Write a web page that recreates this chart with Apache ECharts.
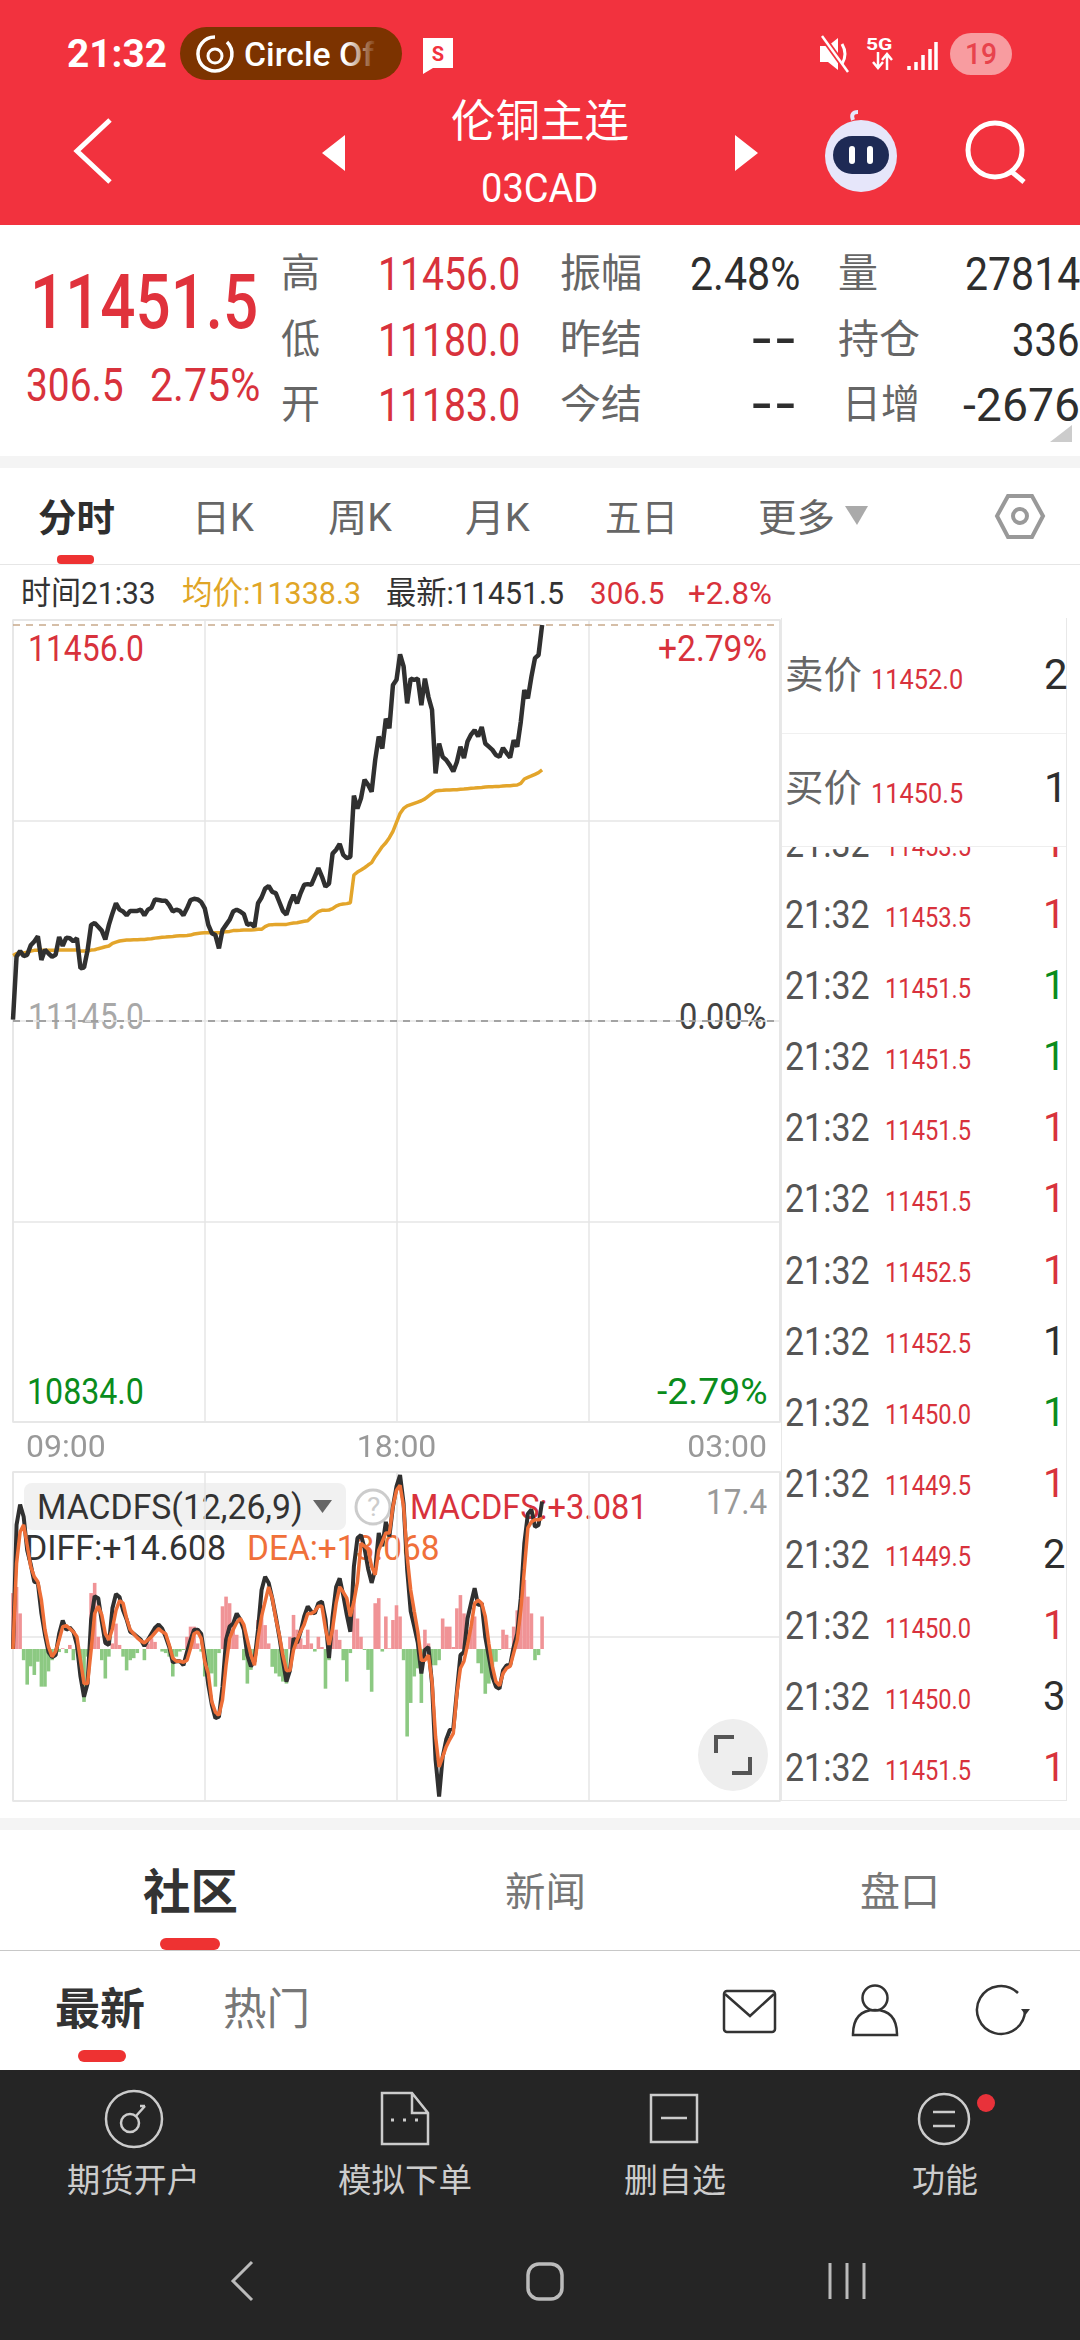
<!DOCTYPE html>
<html>
<head>
<meta charset="utf-8">
<script src="https://cdn.jsdelivr.net/npm/echarts@6/dist/echarts.min.js"></script>
<style>
html,body{margin:0;padding:0;background:#fff;}
#page{position:relative;width:1080px;height:2340px;overflow:hidden;font-family:Roboto,"Noto Sans CJK SC",sans-serif;}
#page span{position:absolute;white-space:nowrap;line-height:1;transform-origin:left center;}
.box{position:absolute;}
#main{position:absolute;left:0;top:600px;width:790px;height:1220px;z-index:5;}
svg{position:absolute;left:0;top:0;}
</style>
</head>
<body>
<div id="page">
<div class="box" style="left:0;top:0;width:1080px;height:225px;background:#f2323e"></div>
<div class="box" style="left:0;top:456px;width:1080px;height:12px;background:#f4f4f4"></div>
<div class="box" style="left:0;top:564px;width:1080px;height:1px;background:#e6e6e6"></div>
<div class="box" style="left:0;top:1818px;width:1080px;height:12px;background:#f4f4f4"></div>
<div class="box" style="left:0;top:1950px;width:1080px;height:1px;background:#c8c8c8"></div>
<div class="box" style="left:0;top:2070px;width:1080px;height:270px;background:#252525"></div>
<div class="box" style="left:180px;top:27px;width:222px;height:53px;border-radius:27px;background:#7c3300"></div>
<div class="box" style="left:24px;top:1483px;width:322px;height:47px;border-radius:8px;background:#f1f1f1"></div>
<div class="box" style="left:781px;top:618px;width:286px;height:1183px;border-left:1px solid #e8e8e8;border-right:1px solid #e8e8e8;border-bottom:1px solid #e8e8e8;box-sizing:border-box"></div>
<svg width="1080" height="2340" fill="none">
  <!-- status bar -->
  <path d="M215 37a17 17 0 1 0 12 5" stroke="#fff" stroke-width="3.5"/>
  <circle cx="215" cy="56" r="7" stroke="#fff" stroke-width="3"/>
  <path d="M423 38h30v30h-20l-10 6z" fill="#fff"/>
  <text x="438" y="61" font-size="20" font-weight="700" fill="#f2323e" text-anchor="middle" font-family="Roboto">S</text>
  <path d="M820 46h8l10-8v32l-10-8h-8z" fill="#fff"/>
  <path d="M822 36l26 36" stroke="#f2323e" stroke-width="6"/>
  <path d="M822 36l26 36" stroke="#fff" stroke-width="2.5"/>
  <path d="M842 44q6 10 0 20" stroke="#fff" stroke-width="3"/>
  <path d="M878 52v16M873 62l5 6 5-6M887 70v-16M882 60l5-6 5 6" stroke="#fff" stroke-width="2.5"/>
  <path d="M909 70v-4M916 70v-8M923 70v-15M930 70v-21M936 70v-28" stroke="#fff" stroke-width="3.5"/>
  <rect x="950" y="33" width="62" height="42" rx="21" fill="#f89ca0"/>
  <!-- nav -->
  <path d="M110 120L77 151l33 31" stroke="#fff" stroke-width="5"/>
  <path d="M345 135v36l-23-18zM735 135v36l23-18z" fill="#fff"/>
  <circle cx="861" cy="156" r="36" fill="#e6e6fa"/>
  <path d="M853 120q-3-8 5-8" stroke="#e6e6fa" stroke-width="4"/>
  <rect x="833" y="136" width="56" height="38" rx="19" fill="#1e2a55"/>
  <rect x="849" y="146" width="6" height="18" rx="3" fill="#fff"/>
  <rect x="867" y="146" width="6" height="18" rx="3" fill="#fff"/>
  <circle cx="995" cy="150" r="27" stroke="#fff" stroke-width="5"/>
  <path d="M1012 172l12 10" stroke="#fff" stroke-width="5"/>
  <!-- quote corner and tabs -->
  <path d="M1072 425v17h-22z" fill="#ccc"/>
  <rect x="57" y="555" width="37" height="9" rx="4" fill="#ee3232"/>
  <path d="M845 506h23l-11 19z" fill="#aaa"/>
  <path d="M1008 496h24l11 20-11 21h-24l-11-21z" stroke="#999" stroke-width="4"/>
  <circle cx="1020" cy="516" r="7" stroke="#999" stroke-width="4"/>
  <!-- chart panel -->
  <path d="M313 1500h19l-9.5 13z" fill="#666"/>
  <circle cx="373" cy="1507" r="17" stroke="#ccc" stroke-width="3" fill="#fff"/>
  <ellipse cx="733" cy="1755" rx="35" ry="36" fill="#eee"/>
  <path d="M734 1737h-18v16M732 1773h18v-16" stroke="#555" stroke-width="4"/>
  <!-- lower tabs -->
  <rect x="160" y="1938" width="60" height="12" rx="6" fill="#ee3232"/>
  <rect x="78" y="2050" width="48" height="12" rx="6" fill="#ee3232"/>
  <rect x="724" y="1991" width="51" height="41" rx="3" stroke="#333" stroke-width="2.5"/>
  <path d="M725 1994l25 22 24-22" stroke="#333" stroke-width="2.5"/>
  <circle cx="875" cy="1998" r="12.5" stroke="#333" stroke-width="2.5"/>
  <path d="M853 2035q0-25 22-25t22 25z" stroke="#333" stroke-width="2.5"/>
  <path d="M1018 1993a24 24 0 1 0 7 17" stroke="#333" stroke-width="2.5"/>
  <path d="M1021 2009h9l-4.500 6z" fill="#333"/>
  <!-- bottom bar -->
  <circle cx="134" cy="2119" r="28" stroke="#ccc" stroke-width="2.5"/>
  <circle cx="130" cy="2123" r="9" stroke="#ccc" stroke-width="2.500"/>
  <path d="M136 2116l9-10M140 2106l5 0" stroke="#ccc" stroke-width="2.5"/>
  <path d="M382 2093h30l16 20v31h-46zM412 2093v20h16" stroke="#ccc" stroke-width="2.5"/>
  <path d="M391 2120h3M403 2120h3M415 2120h3" stroke="#ccc" stroke-width="3"/>
  <rect x="651" y="2095" width="46" height="47" stroke="#ccc" stroke-width="2.5"/>
  <path d="M661 2118h26" stroke="#ccc" stroke-width="2.5"/>
  <circle cx="944" cy="2119" r="25" stroke="#ccc" stroke-width="2.5"/>
  <path d="M933 2112h22M933 2126h22" stroke="#ccc" stroke-width="2.5"/>
  <circle cx="986" cy="2103" r="9" fill="#e8323a"/>
  <path d="M252 2262l-19 19 19 19" stroke="#bbb" stroke-width="3"/>
  <rect x="528" y="2264" width="34" height="35" rx="11" stroke="#bbb" stroke-width="3.5"/>
  <path d="M830 2263v36M847 2263v36M864 2263v36" stroke="#bbb" stroke-width="3"/>
</svg>
<div id="main"></div>
</div>
<script>
// 分时 sampled every 5 minutes starting at 09:00
var times = [];
for (var i = 0; i <= 216; i++) {
    var mins = (540 + i * 5) % 1440;
    times.push(('0' + Math.floor(mins / 60)).slice(-2) + ':' + ('0' + mins % 60).slice(-2));
}
var axisTimes = ['09:00', '18:00', '03:00'];
var refPrices = [11456, 11145];

var price = [
    11146,11195.5,11200,11196,11197,11204.5,11207.5,11211.5,11193,11201,11198,11195.5,11197,11211,11204,11210.5,11210,11207.5,11210,11186.5,
    11187,11200.5,11220.5,11222,11219,11216,11209,11220.5,11229.5,11237.5,11232.5,11231,11228,11231.5,11231.5,11231.5,11232.5,11228,11232.5,11234,
    11240.5,11240,11239.5,11239.5,11236,11231,11232.5,11231.5,11228,11233.5,11240,11241,11240.5,
    11238.5,11233.5,11220.5,11214,11212.5,11202,11216.5,11220.5,11224.5,11231,11232.5,11231,11229,11220.5,11221.5,11219,11237.5,11242,11249,11251,
    11246.5,11245.5,11238.5,11231.5,11228.5,11237.5,11244,11237.5,11245.5,11252,11252.5,11252,11258.5,11265,11258.5,11250.5,11253,11276.5,11279.5,11284,
    11275.5,11273,11274,11322,11312,11320,
    11334.5,11330.5,11325,11350,11368.5,11359,11382.5,11375,11409,11413,11433,11423.5,11394.5,11414,11413,11414,11393,11414,11399.5,11389.5,
    11339.5,11363,11352.5,11350,11346,11341,11348.5,11360.5,11351.5,11364.5,11370,11373.5,11368.5,11376,11363,11360.5,11358,11354,11352.5,11359.5,
    11355.5,11352,11365.5,11360.5,11380,11405,11398.5,11415.5,11430,11432.5,11456
];
var avgPrice = [
    11196.5,11198,11198,11198.5,11199,11200,11200.5,11200.5,11200.5,11200.5,11200.5,11200.5,11200.5,11200.7,11200.7,11200.7,11200.7,11200.7,11200.7,11200,
    11200,11200,11200.7,11201,11201.8,11202.5,11203.3,11203.9,11206,11207,11207.8,11208.3,11208.6,11208.6,11208.8,11208.8,11209.1,11209.1,11209.4,11209.6,
    11210.1,11210.4,11210.7,11210.9,11211.2,11211.4,11211.7,11212,11212,11212.2,11212.5,11213.3,11213.8,
    11214.1,11214.4,11214.4,11214.4,11214.4,11214.4,11214.6,11215.2,11215.4,11216,11216,11216.2,11216.5,11216.5,11216.5,11216.7,11217,11217,11219.1,11220.4,
    11220.7,11220.9,11220.9,11220.9,11220.9,11221.5,11222,11222.2,11222.8,11223.3,11223.8,11226.4,11228.8,11230.9,11231.9,11231.9,11232.2,11233.2,11235.3,11236.4,
    11236.9,11237.2,11237.9,11259.7,11262,11263.6,
    11265.4,11267.5,11269.4,11274.1,11278,11282,11285,11289,11294,11301,11308,11312,11314,11315,11316,11317,11318,11319.5,11321.7,11323.8,
    11325.7,11326,11326.2,11326.5,11326.5,11326.7,11326.7,11327,11327.2,11327.5,11327.8,11328,11328.3,11328.5,11328.8,11329,11329,11329.3,11329.3,11329.6,
    11329.8,11329.8,11330.1,11330.4,11331.7,11335.1,11336.4,11337.5,11338.8,11340.1,11342.2
];
var diff = [
    0,12.2,14.2,13,9.7,8.3,6.6,6.5,3.5,1.4,-0.3,-0.8,-0.6,1.5,2.8,1.9,2.1,1.7,0.4,-2.7,
    -4.7,-3.4,2.9,5.2,5,2.7,0.6,0.4,4,5.4,5.1,3.8,2.9,1.7,1.5,1.2,0.9,0.3,0.9,1.5,
    2.1,2.4,2,1.2,0.2,-1.3,-1.2,-1.2,-1.6,-0.3,0.9,1.9,1.9,
    1.5,-0.8,-3.5,-5.5,-6.8,-6.65,-3.7,0.9,2.2,2.5,3.5,2.9,1.9,-0.6,-1.7,-1.2,1.9,5.8,7.1,6.5,
    5,3.2,1.2,-1.1,-3.2,-2.1,1.05,0.6,1.7,3.2,4.2,3.7,3.5,4.5,4.65,2.9,-0.9,3.2,6.1,6.95,
    5.3,3.35,1.7,8.1,10.9,11.2,
    9.9,7.9,6.5,7.8,11.4,10.1,12.5,11.05,14,16,17.1,14.3,7.8,3.7,2.2,0.6,-2.4,-0.1,0.2,-3.4,
    -10.9,-14.5,-10.6,-8.9,-7.96,-7.8,-4.2,-0.6,-0.3,3,4.5,5.97,4.3,4.5,1.2,-0.75,-2.7,-3.7,-3.9,-2.1,
    -1.6,-1.6,0.2,1.5,5,10.4,13.3,13.7,12,12.2,14.5
];
var dea = [
    0,8.4,11.5,12.2,10.2,8.1,7.1,6.6,4.8,1.9,0.2,-0.75,-0.25,0.9,2.2,2.3,2,1.7,1.2,-1.1,
    -3.4,-3.4,-0.1,3.5,4.2,3.35,1.5,0.9,2,3.8,4.75,4.5,3,1.9,1.5,1.1,0.8,0.6,0.9,1.2,
    1.6,2,1.7,1.5,0.4,-0.9,-1.2,-1.2,-1.3,-1.1,0.07,1.5,1.7,
    1.05,-1.25,-2.4,-5.2,-6.2,-6.5,-5,-1.6,1.05,1.9,2.6,3,2.4,0.9,-0.6,-1.6,1.05,3.2,4.65,6.1,
    5,3,1.4,-0.6,-2.1,-2.1,-0.1,0.9,1.7,2.4,3.5,3.5,3.7,4.2,4.2,2,0.4,2,4.5,6.1,
    5.6,5,3.2,4.65,6.6,10.4,
    10.1,9.8,8.1,7.3,9.7,10.55,11.4,11.4,14,15.6,16.1,14,9.1,5.8,3.7,1.7,-1.1,-1.1,-0.6,-3.2,
    -8.6,-11.6,-10.6,-9.6,-8.9,-8.3,-4.4,-1.9,-1.2,0.4,2.2,4.5,4.8,4.5,3.2,0.55,-1.7,-3.2,-3.6,-2.4,
    -1.9,-1.7,-0.4,0.9,3.8,7.8,11.9,12.5,12.7,12.7,12.85
];
var macdfs = [
    5.5,6.1,3.5,-1.1,-3.5,-1.7,-2.55,-1.25,-3.7,-3.7,-2.2,-1.1,-0.1,-0.3,0.07,-0.4,0.4,-1.1,-0.1,-0.9,
    -5.2,-0.75,5.5,6.5,1.2,-1.1,-2.9,-0.75,0.55,2.5,0.4,-0.75,-2.1,-1.1,-0.9,-0.4,0,-1.1,0.55,1.05,
    0.7,0,-0.25,-0.4,-0.75,-2.7,-0.75,-0.25,-0.1,1.2,2.2,2.2,0.55,
    -0.25,-2.7,-3.05,-2.4,-3.7,-0.4,4.2,5.15,4.5,2.5,1.4,0,-1.1,-3.4,-2.05,-0.75,2.85,4.3,2.35,0.55,
    -1.75,-2.4,-2.7,-3.2,-3.4,1.2,3.35,1.9,1.05,0.4,1.9,0.55,-0.25,1.2,0.2,-3.9,-1.1,3.2,1.9,0.9,
    -1.1,-3.2,-0.4,5.5,3,1.2,
    -0.1,-2.05,-4.2,4.5,5,-0.25,3.2,0.07,2.85,4.3,3.2,-1.1,-8.6,-5.3,-2.7,-1.9,-5.3,1.9,0.55,-1.6,
    -1.6,-1.1,3,2.2,2.2,0.2,4,5.3,3.5,1.9,2.2,3.2,-1.4,-2.4,-4.4,-3.4,-2.05,-1.25,-0.1,1.9,
    1.4,0.07,2.2,3.8,5,6.8,5.15,3.5,-1.1,-0.6,3.2
];

// 成交明细
var tradePrices = ['11453.5','11451.5','11451.5','11451.5','11451.5','11452.5','11452.5','11450.0','11449.5','11449.5','11450.0','11450.0','11451.5'];
var tradeQty = ['1','1','1','1','1','1','1','1','1','2','1','3','1'];
var tradeDir = ['r','g','g','r','r','r','d','g','r','d','r','d','r'];

var RED = '#d8323c', GREEN = '#0a8c1c', DARK = '#2e2e2e', GREY = '#666';
var page = document.getElementById('page');

// text placed by its left and right edge, squeezed to fit
function T(str, x0, x1, yc, size, color, weight) {
    var s = document.createElement('span');
    s.textContent = str;
    s.style.left = x0 + 'px';
    s.style.top = (yc - size / 2) + 'px';
    s.style.fontSize = size + 'px';
    s.style.color = color;
    if (weight) s.style.fontWeight = weight;
    page.appendChild(s);
    if (x1 != null) s.style.transform = 'scaleX(' + ((x1 - x0) / s.offsetWidth) + ')';
    return s;
}

// status bar
T('21:32', 67, 167, 54, 38, '#fff', 700);
T('Circle Of', 244, 374, 54, 33, '#fff', 500);
var fade = document.createElement('div');
fade.className = 'box';
fade.style.cssText = 'left:345px;top:32px;width:32px;height:44px;background:linear-gradient(to right,rgba(124,51,0,0),#7c3300)';
page.appendChild(fade);
T('5G', 866, 892, 44, 17, '#fff', 700);
T('19', 965, 997, 54, 30, '#e8434c', 500);

T('伦铜主连', 451, 629, 122, 44, '#fff');
T('03CAD', 481, 598, 189, 40, '#fff');

// quote block
T('11451.5', 30, 258, 302, 76, '#e0323c', 500);
T('306.5', 26, 124, 385, 46, RED);
T('2.75%', 150, 260, 385, 46, RED);
var rowY = [274, 340, 405];
['高', '低', '开'].forEach(function (s, i) { T(s, 281, 320, rowY[i], 40, GREY); });
['11456.0', '11180.0', '11183.0'].forEach(function (s, i) { T(s, 378, 520, rowY[i], 46, RED); });
['振幅', '昨结', '今结'].forEach(function (s, i) { T(s, 560, 642, rowY[i], 40, GREY); });
T('2.48%', 690, 800, rowY[0], 46, DARK);
T('--', 750, 798, rowY[1], 40, DARK, 700);
T('--', 750, 798, rowY[2], 40, DARK, 700);
T('量', 838, 878, rowY[0], 40, GREY);
T('持仓', 838, 920, rowY[1], 40, GREY);
T('日增', 842, 920, rowY[2], 40, GREY);
T('27814', 965, 1080, rowY[0], 46, DARK);
T('336', 1012, 1080, rowY[1], 46, DARK);
T('-2676', 963, 1080, rowY[2], 46, DARK);

// period tabs
T('分时', 38, 115, 518, 38, DARK, 700);
T('日K', 192, 254, 518, 38, GREY);
T('周K', 328, 392, 518, 38, GREY);
T('月K', 465, 530, 518, 38, GREY);
T('五日', 605, 678, 518, 38, GREY);
T('更多', 758, 835, 518, 38, GREY);

// crosshair info row
T('时间21:33', 21, 156, 593, 32, '#333');
T('均价:11338.3', 182, 361, 593, 32, '#e0a526');
T('最新:11451.5', 386, 564, 593, 32, '#333');
T('306.5', 590, 664, 593, 32, RED);
T('+2.8%', 688, 772, 593, 32, RED);

// labels on the price panel, lines are drawn over them
T('11456.0', 28, 144, 649, 36, RED);
T('+2.79%', 658, 767, 649, 36, RED);
T('11145.0', 28, 144, 1017, 36, '#a8a8a8');
T('0.00%', 679, 767, 1017, 36, '#444');
T('10834.0', 27, 144, 1392, 36, GREEN);
T('-2.79%', 657, 768, 1392, 36, GREEN);

// labels on the macd panel
T('MACDFS(12,26,9)', 37, 303, 1507, 35, '#333');
T('?', 367, 380, 1507, 26, '#ccc');
T('MACDFS:+3.081', 410, 648, 1507, 35, RED);
T('DIFF:+14.608', 25, 226, 1548, 35, '#333');
T('DEA:+13.068', 247, 440, 1548, 35, '#f0703a');
T('17.4', 706, 767, 1502, 35, '#999');

// trade list, the first row is half hidden under the bid/ask box
function tradeRow(i, yc) {
    var col = tradeDir[i] == 'r' ? RED : (tradeDir[i] == 'g' ? GREEN : DARK);
    T('21:32', 785, 870, yc, 38, '#555');
    T(tradePrices[i], 885, 971, yc + 3, 27, RED);
    T(tradeQty[i], 1043, null, yc, 40, col);
}
tradeRow(0, 844);
var quoteBox = document.createElement('div');
quoteBox.className = 'box';
quoteBox.style.cssText = 'left:782px;top:619px;width:284px;height:228px;background:#fff;border-bottom:1px solid #eee;box-sizing:border-box';
page.appendChild(quoteBox);
var sepLine = document.createElement('div');
sepLine.className = 'box';
sepLine.style.cssText = 'left:782px;top:733px;width:284px;height:1px;background:#f0f0f0';
page.appendChild(sepLine);
for (var r = 0; r < tradePrices.length; r++) {
    tradeRow(r, 915 + 71.1 * r);
}
T('卖价', 785, 862, 675, 38, GREY);
T('11452.0', 871, 963, 680, 27, RED);
T('2', 1044, null, 675, 42, DARK);
T('买价', 785, 862, 788, 38, GREY);
T('11450.5', 871, 963, 794, 27, RED);
T('1', 1044, null, 788, 42, DARK);

// lower tabs
T('社区', 143, 238, 1893, 48, '#333', 700);
T('新闻', 505, 586, 1893, 40, '#777');
T('盘口', 860, 940, 1893, 40, '#777');
T('最新', 55, 145, 2010, 44, '#333', 700);
T('热门', 223, 310, 2010, 44, '#777');
T('期货开户', 67, 200, 2180, 33, '#ccc');
T('模拟下单', 338, 472, 2180, 33, '#ccc');
T('删自选', 624, 726, 2180, 33, '#ccc');
T('功能', 912, 978, 2180, 33, '#ccc');

var myChart = echarts.init(document.getElementById('main'), null, { renderer: 'canvas' });

var gridLine = { lineStyle: { color: '#e6e6e6', width: 1.5 } };
function isGridTick(index) { return index % 54 == 0; }
function isLabelTick(index) { return index % 108 == 0; }

var option = {
    animation: false,
    backgroundColor: 'transparent',
    grid: [
        { left: 13, right: 10, top: 20, height: 802, show: true, borderColor: '#e6e6e6', borderWidth: 1.5 },
        { left: 13, right: 10, top: 872, height: 329, show: true, borderColor: '#e6e6e6', borderWidth: 1.5 }
    ],
    xAxis: [
        {
            type: 'category', gridIndex: 0, boundaryGap: false, data: times,
            axisLine: { show: false }, axisTick: { show: false },
            splitLine: { show: true, interval: function (i) { return isGridTick(i); }, lineStyle: gridLine.lineStyle },
            axisLabel: {
                interval: function (i) { return isLabelTick(i); },
                formatter: function (v) { return axisTimes.indexOf(v) >= 0 ? v : ''; },
                color: '#999', fontSize: 32, fontFamily: 'Roboto', margin: 11,
                padding: [0, 13, 0, 13], alignMinLabel: 'left', alignMaxLabel: 'right'
            }
        },
        {
            type: 'category', gridIndex: 1, boundaryGap: false, data: times,
            axisLine: { show: false }, axisTick: { show: false }, axisLabel: { show: false },
            splitLine: { show: true, interval: function (i) { return isGridTick(i); }, lineStyle: gridLine.lineStyle }
        }
    ],
    yAxis: [
        { type: 'value', gridIndex: 0, min: 10830, max: 11460, show: false, splitLine: { show: false } },
        // these two only carry the horizontal grid lines
        { type: 'value', gridIndex: 0, min: 0, max: 4, interval: 1, axisLine: { show: false }, axisTick: { show: false },
          axisLabel: { show: false }, splitLine: gridLine },
        { type: 'value', gridIndex: 1, min: -14.94, max: 17.4, show: false, splitLine: { show: false } },
        { type: 'value', gridIndex: 1, min: 0, max: 2, interval: 1, axisLine: { show: false }, axisTick: { show: false },
          axisLabel: { show: false }, splitLine: gridLine }
    ],
    series: [
        {
            name: '最新', type: 'line', xAxisIndex: 0, yAxisIndex: 0, data: price, showSymbol: false, z: 4,
            lineStyle: { color: '#303030', width: 4.5 },
            markLine: {
                silent: true, symbol: 'none', label: { show: false }, animation: false,
                data: [
                    { yAxis: refPrices[0], lineStyle: { color: '#c8a98a', type: [7, 6], width: 1.5 } },
                    { yAxis: refPrices[1], lineStyle: { color: '#8a8a8a', type: [7, 6], width: 1.5 } }
                ]
            }
        },
        {
            name: '均价', type: 'line', xAxisIndex: 0, yAxisIndex: 0, data: avgPrice, showSymbol: false, z: 3,
            lineStyle: { color: '#e3a52b', width: 3.5 }
        },
        {
            name: 'MACDFS', type: 'bar', xAxisIndex: 1, yAxisIndex: 2, data: macdfs, barWidth: 3.6, z: 2,
            itemStyle: { color: function (p) { return p.value >= 0 ? '#f09396' : '#8cc982'; } }
        },
        {
            name: 'DIFF', type: 'line', xAxisIndex: 1, yAxisIndex: 2, data: diff, showSymbol: false, z: 3,
            lineStyle: { color: '#303030', width: 4 }
        },
        {
            name: 'DEA', type: 'line', xAxisIndex: 1, yAxisIndex: 2, data: dea, showSymbol: false, z: 4,
            lineStyle: { color: '#ee6f38', width: 3.5 }
        }
    ]
};
myChart.setOption(option);
</script>
</body>
</html>
